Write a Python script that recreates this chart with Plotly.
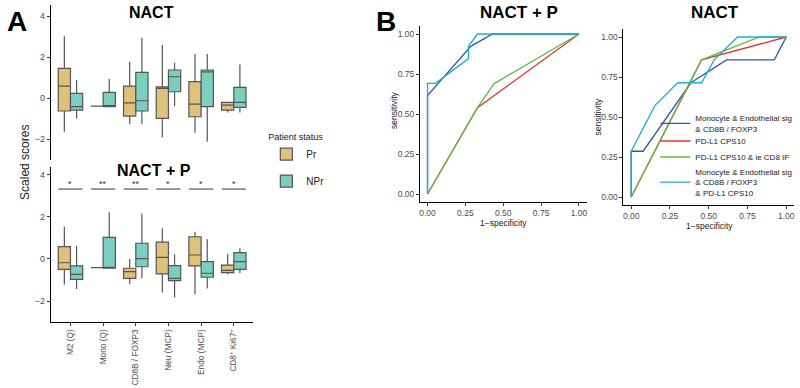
import plotly.graph_objects as go

W, H = 800, 388

# ---------------- Panel A data (box statistics) ----------------
categories = ["M2 (Q)", "Mono (Q)", "CD8B / FOXP3", "Neu (MCP)", "Endo (MCP)",
              "CD8<sup>+</sup> Ki67<sup>+</sup>"]
cat_pos = list(range(len(categories)))

# NACT, Pr
nact_pr_upper = [3.02, -0.39, 1.77, 2.59, 2.15, -0.21]
nact_pr_q3 = [1.45, -0.39, 0.585, 0.55, 0.80, -0.21]
nact_pr_median = [0.585, -0.39, -0.23, 0.47, -0.29, -0.34]
nact_pr_q1 = [-0.63, -0.39, -0.88, -0.99, -0.91, -0.585]
nact_pr_lower = [-1.64, -0.39, -1.27, -1.92, -1.69, -0.70]
# NACT, NPr
nact_npr_upper = [0.88, 0.93, 2.94, 1.72, 2.15, 1.64]
nact_npr_q3 = [0.23, 0.28, 1.25, 1.37, 1.37, 0.52]
nact_npr_median = [-0.42, -0.39, -0.13, 1.04, 1.28, -0.21]
nact_npr_q1 = [-0.585, -0.42, -0.63, 0.31, -0.42, -0.45]
nact_npr_lower = [-0.99, -0.42, -1.27, -0.39, -2.13, -0.70]
# NACT + P, Pr
nactp_pr_upper = [1.54, -0.41, 0.0, 1.46, 1.30, 0.22]
nactp_pr_q3 = [0.59, -0.41, -0.44, 0.80, 1.06, -0.29]
nactp_pr_median = [-0.18, -0.41, -0.60, 0.08, 0.19, -0.54]
nactp_pr_q1 = [-0.49, -0.41, -0.92, -0.71, -0.33, -0.65]
nactp_pr_lower = [-1.21, -0.41, -1.19, -1.60, -1.68, -0.73]
# NACT + P, NPr
nactp_npr_upper = [0.62, 2.22, 2.17, 0.22, 0.94, 0.51]
nactp_npr_q3 = [-0.33, 1.03, 0.75, -0.32, -0.13, 0.30]
nactp_npr_median = [-0.73, -0.41, 0.02, -0.92, -0.68, -0.13]
nactp_npr_q1 = [-0.97, -0.44, -0.37, -1.03, -0.87, -0.49]
nactp_npr_lower = [-1.43, -0.44, -0.92, -1.83, -1.40, -0.68]

significance = ["*", "**", "**", "*", "*", "*"]
sig_level = 3.33
y_ticks_a = [-2, 0, 2, 4]

# ---------------- Panel B data (ROC curves) ----------------
roc_names = ["Monocyte & Endothelial sig<br>& CD8B / FOXP3",
             "PD-L1 CPS10",
             "PD-L1 CPS10 & ie CD8 IF",
             "Monocyte & Endothelial sig<br>& CD8B / FOXP3<br>& PD-L1 CPS10"]
roc_colors = ["#2C5AA6", "#E8312B", "#5DBA47", "#20AECB"]

nactp_fpr = [[0, 0, 0.286, 0.429, 1],
             [0, 0.33, 1],
             [0, 0.33, 0.44, 1],
             [0, 0, 0.053, 0.27, 0.27, 0.33, 1]]
nactp_tpr = [[0, 0.615, 0.923, 1, 1],
             [0, 0.54, 1],
             [0, 0.54, 0.69, 1],
             [0, 0.692, 0.692, 0.846, 0.923, 1, 1]]
nact_fpr = [[0, 0, 0.077, 0.385, 0.615, 0.923, 1],
            [0, 0.454, 1],
            [0, 0.454, 0.826, 1],
            [0, 0, 0.153, 0.30, 0.454, 0.535, 0.686, 1]]
nact_tpr = [[0, 0.286, 0.286, 0.714, 0.857, 0.857, 1],
            [0, 0.857, 1],
            [0, 0.857, 1, 1],
            [0, 0.286, 0.571, 0.714, 0.714, 0.857, 1, 1]]
roc_ticks = [0, 0.25, 0.5, 0.75, 1.0]

# ---------------- styling ----------------
PR_FILL, NPR_FILL = "#DFC07C", "#7BCFC0"
BOX_LINE = "#555555"
FONT = "Liberation Sans"
TICK_COL = "#4D4D4D"
ROC_LEGEND_Y = [123.5, 141, 157, 182.5]   # legend entry centres (px from top)


def px(xp):
    return xp / W


def py(yp):
    return 1 - yp / H


fig = go.Figure()


def add_boxes(xa, ya, stats_pr, stats_npr, show):
    for name, st, fill in (("Pr", stats_pr, PR_FILL), ("NPr", stats_npr, NPR_FILL)):
        up, q3, med, q1, lo = st
        fig.add_trace(go.Box(
            x=cat_pos, q1=q1, median=med, q3=q3, lowerfence=lo, upperfence=up,
            name=name, legendgroup=name, offsetgroup=name, showlegend=show,
            fillcolor=fill, line=dict(color=BOX_LINE, width=1.2),
            whiskerwidth=0, boxpoints=False, xaxis=xa, yaxis=ya, legend="legend",
            hoverinfo="skip"))


add_boxes("x", "y",
          (nact_pr_upper, nact_pr_q3, nact_pr_median, nact_pr_q1, nact_pr_lower),
          (nact_npr_upper, nact_npr_q3, nact_npr_median, nact_npr_q1, nact_npr_lower), True)
add_boxes("x2", "y2",
          (nactp_pr_upper, nactp_pr_q3, nactp_pr_median, nactp_pr_q1, nactp_pr_lower),
          (nactp_npr_upper, nactp_npr_q3, nactp_npr_median, nactp_npr_q1, nactp_npr_lower), False)

# significance bars
half = 0.37
for i, s in zip(cat_pos, significance):
    fig.add_trace(go.Scatter(x=[i - half, i + half], y=[sig_level, sig_level], mode="lines",
                             line=dict(color="#333333", width=1), showlegend=False,
                             xaxis="x2", yaxis="y2", hoverinfo="skip"))
    fig.add_annotation(x=i, y=sig_level, xref="x2", yref="y2", text=s, showarrow=False,
                       yanchor="bottom", yshift=-2, font=dict(size=9, color="#333333", family=FONT))

# ROC curves
for k in range(4):
    fig.add_trace(go.Scatter(x=nactp_fpr[k], y=nactp_tpr[k], mode="lines", name=roc_names[k],
                             line=dict(color=roc_colors[k], width=1.3), showlegend=False,
                             xaxis="x3", yaxis="y3", hoverinfo="skip"))
for k in range(4):
    fig.add_trace(go.Scatter(x=nact_fpr[k], y=nact_tpr[k], mode="lines", name=roc_names[k],
                             line=dict(color=roc_colors[k], width=1.3), showlegend=True,
                             legend=f"legend{k + 2}", xaxis="x4", yaxis="y4", hoverinfo="skip"))

axis_common = dict(showgrid=False, zeroline=False, showline=True, linecolor="black", linewidth=1,
                   ticks="outside", ticklen=3, tickcolor="#333333",
                   tickfont=dict(size=9, color=TICK_COL, family=FONT))
roc_tickfont = dict(size=8.5, color=TICK_COL, family=FONT)

layout_kwargs = dict(
    width=W, height=H, margin=dict(l=0, r=0, t=0, b=0),
    paper_bgcolor="white", plot_bgcolor="white",
    font=dict(family=FONT, color="#222222"),
    boxmode="group", boxgap=0.25, boxgroupgap=0,
    xaxis=dict(domain=[px(50), px(253)], range=[-0.6, 5.6], anchor="y", showgrid=False,
               zeroline=False, showline=False, showticklabels=False, ticks=""),
    yaxis=dict(axis_common, domain=[py(160), py(5)], range=[-3.02, 4.54], anchor="x",
               tickvals=y_ticks_a),
    xaxis2=dict(axis_common, domain=[px(50), px(253)], range=[-0.6, 5.6], anchor="y2",
                tickvals=cat_pos, ticktext=categories, tickangle=-90,
                tickfont=dict(size=8.3, color=TICK_COL, family=FONT)),
    yaxis2=dict(axis_common, domain=[py(322), py(167)], range=[-3.0, 4.38], anchor="x2",
                tickvals=y_ticks_a),
    xaxis3=dict(axis_common, domain=[px(420), px(587)], range=[-0.05, 1.05], anchor="y3",
                tickvals=roc_ticks, tickformat=".2f", tickfont=roc_tickfont),
    yaxis3=dict(axis_common, domain=[py(202), py(26)], range=[-0.05, 1.05], anchor="x3",
                tickvals=roc_ticks, tickformat=".2f", tickfont=roc_tickfont),
    xaxis4=dict(axis_common, domain=[px(624), px(795)], range=[-0.05, 1.05], anchor="y4",
                tickvals=roc_ticks, tickformat=".2f", tickfont=roc_tickfont),
    yaxis4=dict(axis_common, domain=[py(205), py(29)], range=[-0.05, 1.05], anchor="x4",
                tickvals=roc_ticks, tickformat=".2f", tickfont=roc_tickfont),
    legend=dict(x=px(266), y=py(128), xanchor="left", yanchor="top",
                title=dict(text="Patient status", font=dict(size=9, color="#222222")),
                font=dict(size=10, color="#222222", family=FONT), bgcolor="rgba(0,0,0,0)",
                tracegroupgap=8, itemclick=False),
)
for k, yc in enumerate(ROC_LEGEND_Y):
    layout_kwargs[f"legend{k + 2}"] = dict(
        x=px(656), y=py(yc), xanchor="left", yanchor="middle",
        font=dict(size=8, color="#222222", family=FONT), bgcolor="rgba(0,0,0,0)",
        itemclick=False)
fig.update_layout(**layout_kwargs)

ann = [
    ("A", 16, 21, 28, True, 0),
    ("B", 386, 21, 28, True, 0),
    ("NACT", 151, 13, 16, True, 0),
    ("NACT + P", 153, 170, 16, True, 0),
    ("NACT + P", 519, 13, 17, True, 0),
    ("NACT", 716, 13, 17, True, 0),
    ("Scaled scores", 24, 162, 12, False, -90),
    ("sensitivity", 394, 110, 8.5, False, -90),
    ("sensitivity", 598, 117, 8.5, False, -90),
    ("1\u2212specificity", 504, 223, 8.5, False, 0),
    ("1\u2212specificity", 710, 226, 8.5, False, 0),
]
for text, xp, yp, size, bold, angle in ann:
    fig.add_annotation(x=px(xp), y=py(yp), xref="paper", yref="paper", showarrow=False,
                       text=f"<b>{text}</b>" if bold else text, textangle=angle,
                       xanchor="center", yanchor="middle",
                       font=dict(size=size, color="black" if bold else "#222222", family=FONT))

fig.write_html("out.html", config={"displayModeBar": False},
               post_script="document.body.style.margin='0';document.body.style.overflow='hidden';")
